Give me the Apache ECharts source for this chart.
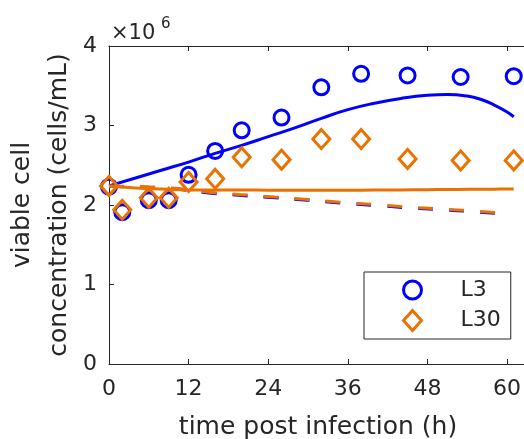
<!DOCTYPE html>
<html>
<head>
<meta charset="utf-8">
<script src="https://cdn.jsdelivr.net/npm/echarts@6/dist/echarts.min.js"></script>
<style>
html,body{margin:0;padding:0;background:#fff;}
#c{width:524px;height:439px;}
</style>
</head>
<body>
<div id="c"></div>
<script>
// values in units of 10^6 cells/mL
var obsTime = [0, 2, 6, 9, 12, 16, 20, 26, 32, 38, 45, 53, 61];
var obsL3   = [2.23, 1.91, 2.06, 2.06, 2.38, 2.68, 2.94, 3.10, 3.48, 3.65, 3.63, 3.61, 3.62];
var obsL30  = [2.24, 1.94, 2.09, 2.09, 2.29, 2.33, 2.60, 2.57, 2.83, 2.83, 2.58, 2.56, 2.56];

var fitSolidTime = [0, 4, 8, 12, 16, 20, 24, 28, 32, 36, 40, 44, 48, 51, 54, 56, 58, 60, 61];
var fitSolidL3   = [2.24, 2.34, 2.44, 2.54, 2.65, 2.75, 2.86, 2.97, 3.09, 3.20, 3.28, 3.34, 3.38, 3.39, 3.37, 3.33, 3.26, 3.17, 3.11];
var fitSolidL30  = [2.24, 2.215, 2.20, 2.19, 2.19, 2.19, 2.187, 2.185, 2.185, 2.186, 2.188, 2.19, 2.193, 2.195, 2.197, 2.198, 2.199, 2.2, 2.2];

var fitDashTime = [0, 6, 10, 15, 20, 25, 30, 35, 40, 45, 50, 55, 59];
var fitDashL3   = [2.235, 2.22, 2.20, 2.15, 2.12, 2.09, 2.06, 2.025, 1.995, 1.965, 1.94, 1.915, 1.89];
var fitDashL30  = [2.24, 2.228, 2.21, 2.16, 2.13, 2.10, 2.07, 2.035, 2.005, 1.975, 1.95, 1.925, 1.90];

var xTicks = [0, 12, 24, 36, 48, 60];
var yTicks = [0, 1, 2, 3, 4];

var BLUE = '#0000ff', ORANGE = '#eb7100', AX = '#262626';
function pairs(xs, ys){ return xs.map(function(x,i){ return [x, ys[i]]; }); }

var chart = echarts.init(document.getElementById('c'), null, {renderer:'canvas'});
chart.setOption({
  animation:false,
  grid:{left:109, top:46, width:418, height:318, outerBoundsMode:'none'},
  xAxis:[
    {
      type:'value', min:0, max:63, interval:12, position:'bottom',
      axisLine:{show:true, onZero:false, lineStyle:{color:AX, width:1}},
      axisTick:{show:true, inside:true, length:5, lineStyle:{color:AX}},
      splitLine:{show:false},
      name:'time post infection (h)', nameLocation:'middle', nameGap:51,
      nameTextStyle:{fontSize:25, color:AX, fontFamily:'DejaVu Sans'},
      axisLabel:{margin:14, fontSize:22, color:AX, fontFamily:'DejaVu Sans', showMaxLabel:false,
        formatter:function(v){ return xTicks.indexOf(v) >= 0 ? String(v) : ''; }}
    },
    {
      type:'value', min:0, max:63, interval:12, position:'top',
      axisLine:{show:true, onZero:false, lineStyle:{color:AX, width:1}},
      axisTick:{show:true, inside:true, length:5, lineStyle:{color:AX}},
      splitLine:{show:false},
      axisLabel:{show:true, color:'rgba(0,0,0,0)', fontSize:10}
    }
  ],
  yAxis:{
    type:'value', min:0, max:4, interval:1,
    name:'viable cell\nconcentration (cells/mL)', nameLocation:'middle', nameRotate:90, nameGap:31,
    nameMoveOverlap:false,
    nameTextStyle:{fontSize:25, lineHeight:37, color:AX, fontFamily:'DejaVu Sans'},
    axisLine:{show:true, onZero:false, lineStyle:{color:AX, width:1}},
    axisTick:{show:true, inside:true, length:5, lineStyle:{color:AX}},
    splitLine:{show:false},
    axisLabel:{margin:12, fontSize:22, color:AX, fontFamily:'DejaVu Sans',
      formatter:function(v){ return yTicks.indexOf(v) >= 0 ? String(v) : ''; }}
  },
  legend:{
    orient:'vertical', left:364, top:272,
    backgroundColor:'#fff', borderColor:AX, borderWidth:1,
    padding:[7,10,7,38], itemGap:8, itemWidth:18, itemHeight:20,
    textStyle:{fontSize:22, color:AX, fontFamily:'DejaVu Sans', padding:[0,0,0,34]},
    data:[
      {name:'L3', icon:'circle', itemStyle:{color:'rgba(0,0,0,0)', borderColor:BLUE, borderWidth:3}},
      {name:'L30', icon:'diamond', itemStyle:{color:'rgba(0,0,0,0)', borderColor:ORANGE, borderWidth:3}}
    ]
  },
  graphic:[
    {type:'line', z:100, shape:{x1:109, y1:46.5, x2:524, y2:46.5}, style:{stroke:AX, lineWidth:1}},
    {type:'text', left:111, top:23, style:{text:'×10', fontSize:21, fill:AX, fontFamily:'DejaVu Sans'}},
    {type:'text', left:161, top:17, style:{text:'6', fontSize:15, fill:AX, fontFamily:'DejaVu Sans'}}
  ],
  series:[
    {name:'L3', type:'scatter', data:pairs(obsTime, obsL3), symbol:'circle', symbolSize:15, z:2,
      itemStyle:{color:'rgba(0,0,0,0)', borderColor:BLUE, borderWidth:3, opacity:1}},
    {name:'L3 fit', type:'line', data:pairs(fitSolidTime, fitSolidL3), showSymbol:false, smooth:true, z:3,
      lineStyle:{color:BLUE, width:3}},
    {name:'L3 fit2', type:'line', data:pairs(fitDashTime, fitDashL3), showSymbol:false, smooth:true, z:3,
      lineStyle:{color:BLUE, width:3, type:[15,16]}},
    {name:'L30', type:'scatter', data:pairs(obsTime, obsL30), symbol:'diamond', symbolSize:[17,19], z:4,
      itemStyle:{color:'rgba(0,0,0,0)', borderColor:ORANGE, borderWidth:3, opacity:1}},
    {name:'L30 fit', type:'line', data:pairs(fitSolidTime, fitSolidL30), showSymbol:false, smooth:true, z:5,
      lineStyle:{color:ORANGE, width:3}},
    {name:'L30 fit2', type:'line', data:pairs(fitDashTime, fitDashL30), showSymbol:false, smooth:true, z:5,
      lineStyle:{color:ORANGE, width:3, type:[15,16]}}
  ]
});
</script>
</body>
</html>
